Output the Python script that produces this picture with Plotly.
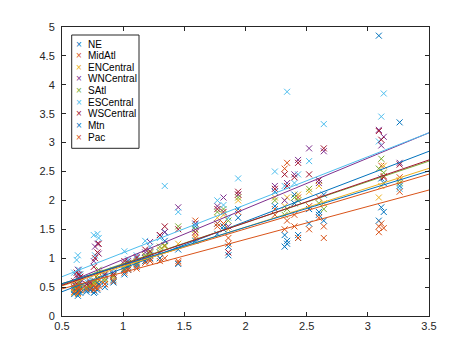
import plotly.graph_objects as go

regions = ["NE", "MidAtl", "ENCentral", "WNCentral", "SAtl", "ESCentral", "WSCentral", "Mtn", "Pac"]
colors = ["#0072BD", "#D95319", "#EDB120", "#7E2F8E", "#77AC30", "#4DBEEE", "#A2142F", "#0072BD", "#D95319"]

# weighted national ILI (x) per week
wtd_ili = [0.60, 0.62, 0.63, 0.64, 0.65, 0.70, 0.73, 0.76, 0.77, 0.79, 0.80, 0.85, 0.92,
           1.01, 1.04, 1.11, 1.18, 1.22, 1.30, 1.34, 1.45, 1.59, 1.77, 1.82, 1.86, 1.94,
           2.24, 2.32, 2.34, 2.40, 2.43, 2.52, 2.60, 2.64, 3.09, 3.11, 3.13, 3.26]

NE = [0.45, 0.50, 0.42, 0.55, 0.48, 0.45, 0.50, 0.52, 0.48, 0.58, 0.62, 0.60, 0.62,
      0.80, 0.85, 0.90, 1.00, 1.05, 1.10, 1.45, 1.15, 1.55, 1.42, 1.55, 1.20, 1.85,
      2.15, 1.40, 1.30, 2.10, 1.35, 1.85, 1.80, 2.10, 4.85, 2.38, 2.30, 3.35]
MidAtl = [0.50, 0.55, 0.48, 0.60, 0.52, 0.50, 0.55, 0.60, 0.55, 0.65, 0.75, 0.55, 0.68,
          0.75, 0.82, 0.88, 0.95, 0.98, 1.00, 1.22, 0.95, 1.65, 1.55, 1.60, 1.35, 2.10,
          1.85, 2.55, 2.65, 1.75, 2.05, 1.90, 2.05, 1.55, 1.55, 2.60, 2.42, 2.15]
ENCentral = [0.40, 0.45, 0.38, 0.50, 0.44, 0.48, 0.52, 0.55, 0.50, 0.60, 0.65, 0.62, 0.65,
             0.85, 0.90, 0.95, 1.02, 1.08, 1.15, 1.20, 1.25, 1.40, 1.70, 1.75, 1.50, 2.00,
             2.05, 1.90, 2.05, 1.95, 2.10, 2.15, 2.25, 1.95, 2.05, 2.25, 2.60, 2.35]
WNCentral = [0.55, 0.70, 0.80, 0.65, 0.58, 0.55, 0.60, 0.95, 1.20, 1.25, 1.08, 0.70, 0.75,
             0.90, 0.95, 1.00, 1.10, 1.28, 1.40, 1.45, 1.88, 1.60, 1.90, 2.05, 1.55, 2.10,
             2.25, 2.00, 2.30, 2.45, 2.70, 2.90, 2.30, 2.85, 3.22, 2.95, 3.10, 2.65]
SAtl = [0.48, 0.52, 0.45, 0.58, 0.50, 0.50, 0.52, 0.58, 0.60, 0.70, 0.80, 0.65, 0.70,
        0.82, 0.88, 0.92, 1.05, 1.10, 1.20, 1.22, 1.55, 1.50, 1.80, 1.85, 1.65, 2.05,
        2.00, 1.75, 1.85, 2.05, 2.00, 2.20, 1.95, 1.85, 2.55, 2.72, 2.48, 2.30]
ESCentral = [0.75, 0.97, 1.05, 0.80, 0.72, 0.60, 0.65, 1.40, 1.05, 1.42, 1.35, 0.75, 0.80,
             1.12, 0.98, 1.05, 1.30, 1.20, 1.35, 2.25, 1.80, 1.58, 2.00, 1.92, 1.70, 2.38,
             2.50, 2.25, 3.88, 2.30, 2.45, 2.68, 2.35, 3.32, 3.02, 3.45, 3.85, 2.20]
WSCentral = [0.60, 0.75, 0.65, 0.72, 0.68, 0.55, 0.58, 0.85, 1.00, 1.10, 1.25, 0.72, 0.72,
             0.95, 0.92, 1.02, 1.15, 1.12, 1.40, 1.55, 1.50, 1.45, 1.85, 1.80, 1.10, 2.15,
             2.20, 2.45, 2.25, 2.40, 2.65, 2.45, 2.35, 2.90, 3.20, 3.05, 2.40, 2.62]
Mtn = [0.38, 0.42, 0.35, 0.45, 0.40, 0.42, 0.45, 0.40, 0.42, 0.45, 0.55, 0.50, 0.58,
       0.72, 0.80, 0.85, 0.95, 1.00, 1.00, 1.30, 0.90, 1.30, 1.60, 1.50, 1.05, 1.70,
       1.90, 1.20, 1.25, 1.95, 1.40, 1.60, 1.75, 1.65, 1.65, 1.88, 1.80, 2.25]
Pac = [0.42, 0.48, 0.40, 0.50, 0.45, 0.47, 0.48, 0.45, 0.50, 0.48, 0.52, 0.55, 0.60,
       0.78, 0.80, 0.82, 0.92, 0.95, 0.95, 1.00, 0.92, 1.35, 1.60, 1.60, 1.25, 1.80,
       1.75, 1.50, 1.65, 1.55, 1.35, 1.50, 1.70, 1.35, 1.45, 1.60, 1.52, 2.40]

series = [NE, MidAtl, ENCentral, WNCentral, SAtl, ESCentral, WSCentral, Mtn, Pac]

# least-squares line values read at the axis ends (x = 0.5 and x = 3.5)
fit_x = [0.5, 3.5]
fit_left = [0.42, 0.56, 0.52, 0.54, 0.55, 0.68, 0.53, 0.56, 0.47]
fit_right = [2.85, 2.455, 2.555, 3.17, 2.68, 3.17, 2.70, 2.51, 2.18]

FONT = "Liberation Sans, Arial"

fig = go.Figure()
for name, ys, c in zip(regions, series, colors):
    fig.add_trace(go.Scatter(
        x=wtd_ili, y=ys, mode="markers", name=name, showlegend=False,
        marker=dict(symbol="x-thin", size=6, color=c, line=dict(color=c, width=1)),
    ))
for name, l, r, c in zip(regions, fit_left, fit_right, colors):
    fig.add_trace(go.Scatter(
        x=fit_x, y=[l, r], mode="lines", showlegend=False, hoverinfo="skip",
        line=dict(color=c, width=1),
    ))

axis_common = dict(
    showgrid=False, zeroline=False, showline=True, mirror="ticks",
    linecolor="#262626", linewidth=1, ticks="inside", ticklen=4,
    tickcolor="#262626", tickfont=dict(family=FONT, size=11, color="#262626"),
)
fig.update_xaxes(range=[0.5, 3.5], tickvals=[0.5, 1, 1.5, 2, 2.5, 3, 3.5],
                 ticktext=["0.5", "1", "1.5", "2", "2.5", "3", "3.5"], **axis_common)
fig.update_yaxes(range=[0, 5], tickvals=[0, 0.5, 1, 1.5, 2, 2.5, 3, 3.5, 4, 4.5, 5],
                 ticktext=["0", "0.5", "1", "1.5", "2", "2.5", "3", "3.5", "4", "4.5", "5"],
                 ticklabelstandoff=4, **axis_common)

# compact legend box (MATLAB style) built from annotations in paper coordinates
PW, PH = 367.0, 289.0   # plot area size in px
box_x0, box_x1 = 9.7 / PW, 77.0 / PW
box_y_top, box_y_bot = 1 - 8.0 / PH, 1 - 121.3 / PH
shapes = [dict(type="rect", xref="paper", yref="paper", x0=box_x0, x1=box_x1,
               y0=box_y_bot, y1=box_y_top, line=dict(color="#262626", width=1),
               fillcolor="white", layer="above")]
annotations = []
for i, (name, c) in enumerate(zip(regions, colors)):
    yy = 1 - (17.0 + 11.66 * i) / PH
    annotations.append(dict(xref="paper", yref="paper", x=17.0 / PW, y=yy, text="×",
                            showarrow=False, xanchor="center", yanchor="middle",
                            font=dict(family=FONT, size=10, color=c)))
    annotations.append(dict(xref="paper", yref="paper", x=23.7 / PW, y=yy, text=name,
                            showarrow=False, xanchor="left", yanchor="middle",
                            font=dict(family=FONT, size=10, color="black")))

fig.update_layout(
    width=466, height=347,
    margin=dict(l=54, r=45, t=19, b=39),
    paper_bgcolor="white", plot_bgcolor="white",
    showlegend=False,
    shapes=shapes, annotations=annotations,
)

fig.write_html("out.html")
